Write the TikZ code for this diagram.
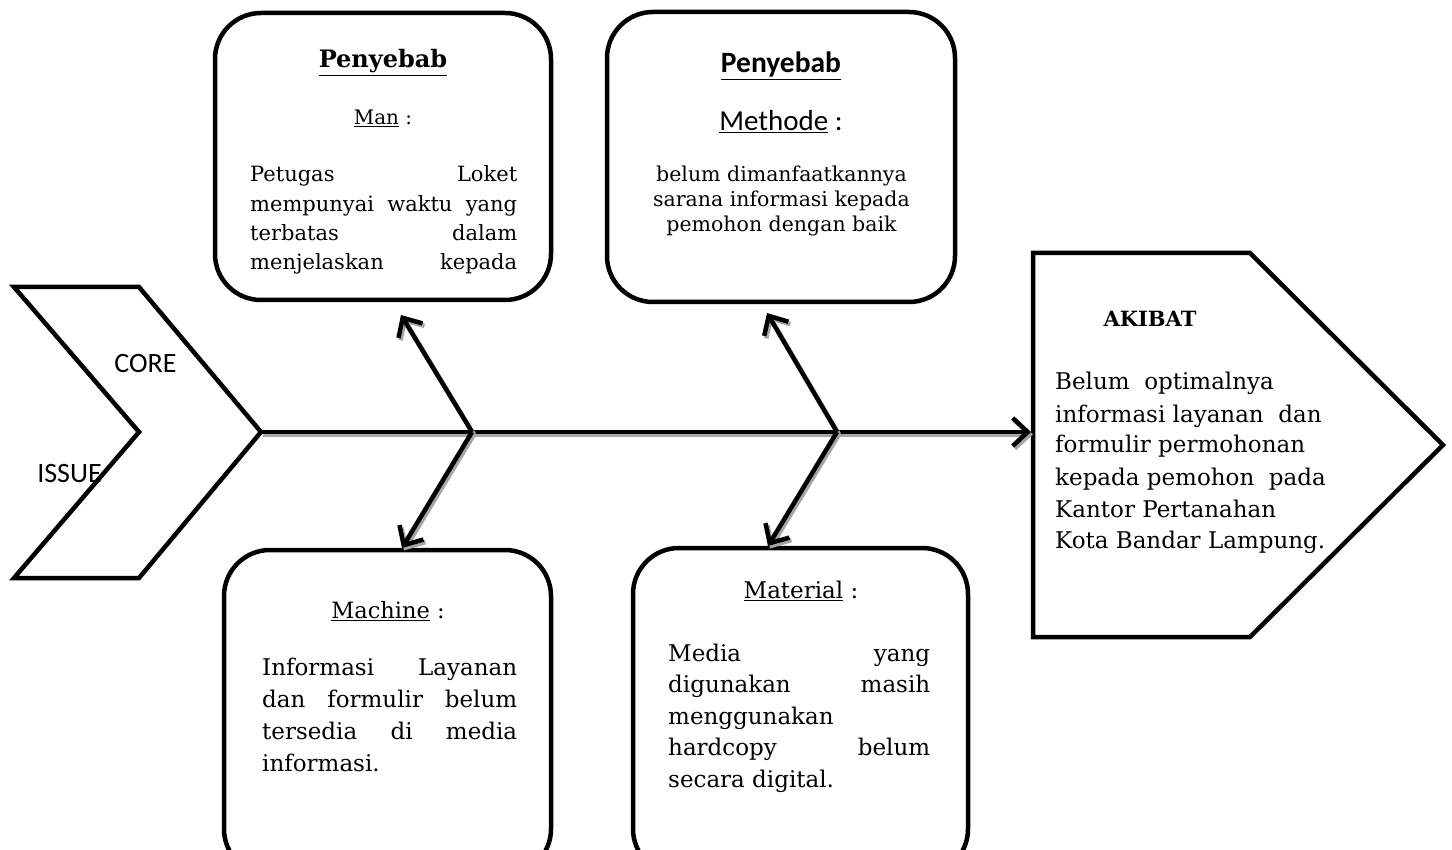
\documentclass[tikz,border=0pt]{standalone}
\usepackage{fontspec}
\setmainfont{DejaVu Serif}
\newfontfamily\carl{Carlito}
\usetikzlibrary{arrows.meta}
\begin{document}
\begin{tikzpicture}[x=1pt,y=-1pt,
  cbox/.style={draw, line width=4.5pt, rounded corners=46pt, inner sep=0pt, fill=white},
  outline/.style={draw, line width=4.5pt, line join=miter},
  tip/.style={-{Straight Barb[length=15pt,width=28pt]}},
  bone/.style={line width=4.5pt, tip,
    preaction={draw=black!35, line width=4.5pt, tip, transform canvas={xshift=2pt,yshift=-2.5pt}}},
  txt/.style={inner sep=0pt, anchor=base west, font=\fontsize{23}{27}\selectfont},
  ctxt/.style={inner sep=0pt, anchor=base, font=\fontsize{23}{27}\selectfont},
  cal/.style={inner sep=0pt, anchor=base, font=\carl\fontsize{28}{32}\selectfont}
]
\useasboundingbox (0,0) rectangle (1452,850);
\clip (0,0) rectangle (1452,850);

% core issue chevron
\draw[outline] (14,287) -- (139,287) -- (261,432) -- (139,578) -- (14,578) -- (139,432) -- cycle;
\coordinate (ch) at (261,432);
\node[cal] (core) at (145.5,373) {CORE};
\node[cal] (issue) at (69.5,482) {ISSUE};

% akibat pentagon
\draw[outline] (1033,253) -- (1250,253) -- (1443,445) -- (1250,637) -- (1033,637) -- cycle;
\coordinate (ak) at (1031,432);
\node[ctxt, font=\bfseries\fontsize{21}{25}\selectfont] (akibat) at (1150,327) {AKIBAT};
\node[txt] (ak1) at (1055,390) {Belum\ \ optimalnya};
\node[txt] (ak2) at (1055,422) {informasi layanan\ \ dan};
\node[txt] (ak3) at (1055,453) {formulir permohonan};
\node[txt] (ak4) at (1055,485) {kepada pemohon\ \ pada};
\node[txt] (ak5) at (1055,517) {Kantor Pertanahan};
\node[txt] (ak6) at (1055,548) {Kota Bandar Lampung.};

% junctions and arrow ends
\coordinate (j1) at (472,432);
\coordinate (j2) at (837,432);
\coordinate (t1) at (401,315);
\coordinate (t2) at (402,548);
\coordinate (t3) at (767,313);
\coordinate (t4) at (768,546);

% boxes
\node[cbox, minimum width=336pt, minimum height=287pt] (man) at (383,156.5) {};
\node[cbox, minimum width=348pt, minimum height=290pt] (met) at (781,157) {};
\node[cbox, minimum width=327pt, minimum height=325pt] (mac) at (387.5,712.5) {};
\node[cbox, minimum width=335pt, minimum height=327pt] (mat) at (800.5,711.5) {};

% man text
\node[ctxt, font=\bfseries\fontsize{24}{28}\selectfont] (p1) at (383,68) {\underline{Penyebab}};
\node[ctxt, font=\fontsize{20}{24}\selectfont] (man0) at (383,125) {\underline{Man} :};
\node[txt, font=\fontsize{21}{25}\selectfont] (man1) at (250,182) {\makebox[267pt][s]{Petugas Loket}};
\node[txt, font=\fontsize{21}{25}\selectfont] (man2) at (250,212) {\makebox[267pt][s]{mempunyai waktu yang}};
\node[txt, font=\fontsize{21}{25}\selectfont] (man3) at (250,241) {\makebox[267pt][s]{terbatas dalam}};
\node[txt, font=\fontsize{21}{25}\selectfont] (man4) at (250,270) {\makebox[267pt][s]{menjelaskan kepada}};

% methode text
\node[cal, font=\carl\bfseries\fontsize{29.5}{34}\selectfont] (p2) at (781,73) {\underline{Penyebab}};
\node[cal, font=\carl\fontsize{29}{34}\selectfont] (met0) at (781,131) {\underline{Methode} :};
\node[ctxt, font=\fontsize{20.5}{24}\selectfont] (met1) at (781.5,182) {belum dimanfaatkannya};
\node[ctxt, font=\fontsize{20.5}{24}\selectfont] (met2) at (781.5,207) {sarana informasi kepada};
\node[ctxt, font=\fontsize{20.5}{24}\selectfont] (met3) at (781.5,232) {pemohon dengan baik};

% machine text
\node[ctxt, font=\fontsize{22.5}{26}\selectfont] (mac0) at (388,618) {\underline{Machine} :};
\node[txt] (mac1) at (262,675) {\makebox[255pt][s]{Informasi Layanan}};
\node[txt] (mac2) at (262,707) {\makebox[255pt][s]{dan formulir belum}};
\node[txt] (mac3) at (262,739) {\makebox[255pt][s]{tersedia di media}};
\node[txt] (mac4) at (262,771) {informasi.};

% material text
\node[ctxt] (mat0) at (801,598) {\underline{Material} :};
\node[txt] (mat1) at (668,661) {\makebox[262pt][s]{Media yang}};
\node[txt] (mat2) at (668,692) {\makebox[262pt][s]{digunakan masih}};
\node[txt] (mat3) at (668,724) {menggunakan};
\node[txt] (mat4) at (668,755) {\makebox[262pt][s]{hardcopy belum}};
\node[txt] (mat5) at (668,787) {secara digital.};

% spine and bones
\draw[bone] (ch) -- (ak);
\draw[bone] (j1) -- (t1);
\draw[bone] (j1) -- (t2);
\draw[bone] (j2) -- (t3);
\draw[bone] (j2) -- (t4);
\end{tikzpicture}
\end{document}
